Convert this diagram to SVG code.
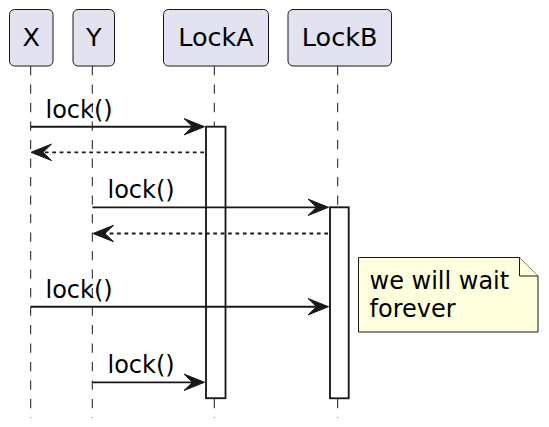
<svg xmlns="http://www.w3.org/2000/svg" width="549" height="427" viewBox="0 0 549 427">
<style>
.p{fill:#E2E2F0;stroke:#181818;stroke-width:1}
.pt{font-family:"DejaVu Sans",sans-serif;font-size:25.5px;fill:#000;text-anchor:middle}
.ll{stroke:#181818;stroke-width:1;stroke-dasharray:9.25,9.25}
.act{fill:#FFFFFF;stroke:#181818;stroke-width:1.85}
.m{stroke:#181818;stroke-width:1.85;fill:none}
.r{stroke:#181818;stroke-width:1.85;fill:none;stroke-dasharray:3.7,3.7}
.ah{fill:#181818;stroke:#181818;stroke-width:1}
.lbl{font-family:"DejaVu Sans",sans-serif;font-size:24px;fill:#000}
.note{fill:#FEFFDD;stroke:#181818;stroke-width:1}
</style>
<rect width="549" height="427" fill="#FFFFFF"/>
<g id="lifelines">
<line class="ll" x1="30.7" y1="66" x2="30.7" y2="418"/>
<line class="ll" x1="92.3" y1="66" x2="92.3" y2="418"/>
<line class="ll" x1="214.3" y1="66" x2="214.3" y2="418"/>
<line class="ll" x1="337.7" y1="66" x2="337.7" y2="418"/>
</g>
<g id="X"><rect class="p" x="9.5" y="9.5" width="43.5" height="56.5" rx="5"/><text class="pt" x="31.2" y="46">X</text></g>
<g id="Y"><rect class="p" x="73" y="9.5" width="41.5" height="56.5" rx="5"/><text class="pt" x="93.7" y="46">Y</text></g>
<g id="LockA"><rect class="p" x="163.5" y="9.5" width="105" height="56.5" rx="5"/><text class="pt" x="216" y="46">LockA</text></g>
<g id="LockB"><rect class="p" x="288" y="9.5" width="103.5" height="56.5" rx="5"/><text class="pt" x="339.7" y="46">LockB</text></g>
<g id="activations">
<rect class="act" x="206" y="126.7" width="19.5" height="271.5"/>
<rect class="act" x="330" y="207.3" width="18.7" height="191"/>
</g>
<g id="connectors">
<line class="m" x1="30.7" y1="126.7" x2="196" y2="126.7"/>
<polygon class="ah" points="204.5,126.7 184,118.5 192.5,126.7 184,134.9"/>
<text class="lbl" x="45.5" y="118">lock()</text>
<line class="r" x1="204" y1="152.3" x2="40" y2="152.3"/>
<polygon class="ah" points="31,152.3 51.5,144.1 43,152.3 51.5,160.5"/>
<line class="m" x1="92.3" y1="207.3" x2="320" y2="207.3"/>
<polygon class="ah" points="328.5,207.3 308,199.1 316.5,207.3 308,215.5"/>
<text class="lbl" x="107.5" y="198.3">lock()</text>
<line class="r" x1="328" y1="233.5" x2="102" y2="233.5"/>
<polygon class="ah" points="93,233.5 113.5,225.3 105,233.5 113.5,241.7"/>
<line class="m" x1="30.7" y1="306.7" x2="320" y2="306.7"/>
<polygon class="ah" points="328.5,306.7 308,298.5 316.5,306.7 308,314.9"/>
<text class="lbl" x="45.5" y="297.7">lock()</text>
<line class="m" x1="92.3" y1="382.3" x2="196" y2="382.3"/>
<polygon class="ah" points="204.5,382.3 184,374.1 192.5,382.3 184,390.5"/>
<text class="lbl" x="107.5" y="373.3">lock()</text>
</g>
<g id="note">
<path class="note" d="M358.5,257.5 L519.5,257.5 L538,276 L538,332 L358.5,332 Z"/>
<path class="note" d="M519.5,257.5 L519.5,276 L538,276"/>
<text class="lbl" x="369.5" y="288.5">we will wait</text>
<text class="lbl" x="369.5" y="316.5">forever</text>
</g>
</svg>
